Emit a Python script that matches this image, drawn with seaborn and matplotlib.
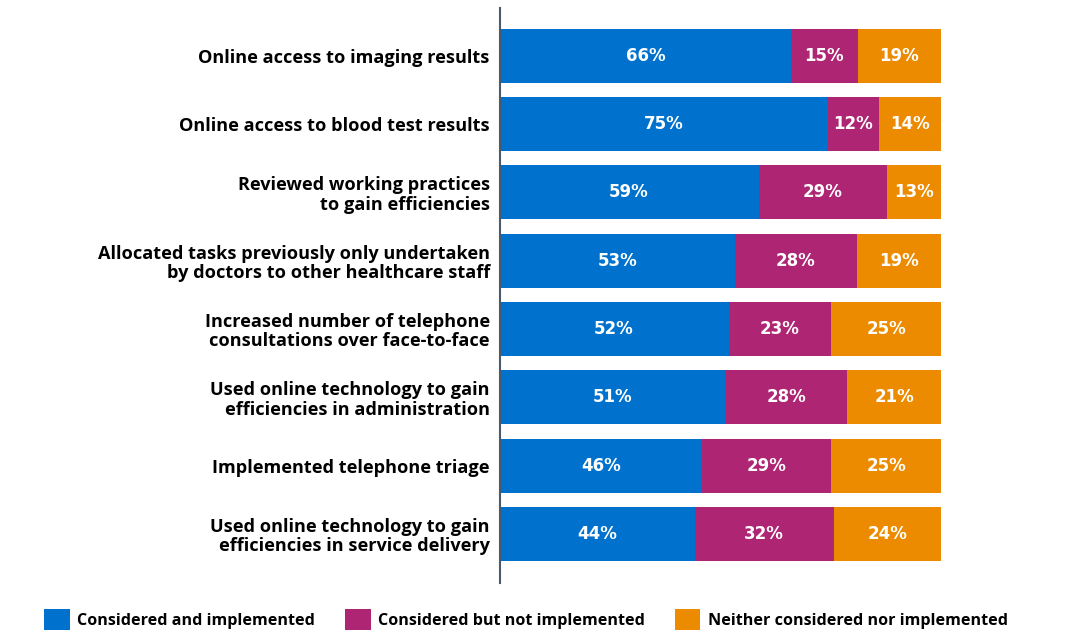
import matplotlib
matplotlib.use("Agg")
import matplotlib.pyplot as plt
import seaborn as sns
import pandas as pd
import numpy as np
from matplotlib.patches import Patch

categories = [
    "Online access to imaging results",
    "Online access to blood test results",
    "Reviewed working practices\nto gain efficiencies",
    "Allocated tasks previously only undertaken\nby doctors to other healthcare staff",
    "Increased number of telephone\nconsultations over face-to-face",
    "Used online technology to gain\nefficiencies in administration",
    "Implemented telephone triage",
    "Used online technology to gain\nefficiencies in service delivery",
]
implemented = [66.1, 74.3, 58.7, 53.3, 51.9, 51.2, 45.9, 44.2]
not_implemented = [15.0, 11.6, 29.0, 27.7, 23.2, 27.6, 29.3, 31.5]
neither = [18.9, 14.1, 12.3, 19.0, 24.9, 21.2, 24.8, 24.3]
labels_impl = ["66%", "75%", "59%", "53%", "52%", "51%", "46%", "44%"]
labels_not = ["15%", "12%", "29%", "28%", "23%", "28%", "29%", "32%"]
labels_neither = ["19%", "14%", "13%", "19%", "25%", "21%", "25%", "24%"]
series_names = ["Considered and implemented", "Considered but not implemented",
                "Neither considered nor implemented"]
colors = ["#0072CE", "#AE2573", "#ED8B00"]

df = pd.DataFrame({"cat": categories, "a": implemented, "b": not_implemented, "c": neither})
df["ab"] = df["a"] + df["b"]
df["abc"] = df["ab"] + df["c"]

sns.set_style("white")
plt.rcParams["font.family"] = ["Open Sans", "DejaVu Sans"]
plt.rcParams["text.color"] = "black"

fig = plt.figure(figsize=(10.77, 6.35), dpi=100)
ax = fig.add_axes([0.4638, 0.0819, 0.4099, 0.9055])

w = 0.79
sns.barplot(data=df, y="cat", x="abc", color=colors[2], orient="h", width=w,
            saturation=1, ax=ax, linewidth=0)
sns.barplot(data=df, y="cat", x="ab", color=colors[1], orient="h", width=w,
            saturation=1, ax=ax, linewidth=0)
sns.barplot(data=df, y="cat", x="a", color=colors[0], orient="h", width=w,
            saturation=1, ax=ax, linewidth=0)

for i in range(len(categories)):
    a, b, c = df.loc[i, "a"], df.loc[i, "b"], df.loc[i, "c"]
    for x, lab in [(a / 2, labels_impl[i]), (a + b / 2, labels_not[i]), (a + b + c / 2, labels_neither[i])]:
        ax.text(x, i, lab, ha="center", va="center", color="white",
                fontsize=12, fontweight="bold", family=["DejaVu Sans"])

ax.set_xlim(0, 100)
ax.set_ylim(7.72, -0.70)
ax.set_xlabel("")
ax.set_ylabel("")
ax.set_xticks([])
for s in ["top", "right", "bottom"]:
    ax.spines[s].set_visible(False)
ax.spines["left"].set_color("#4a5a6a")
ax.spines["left"].set_linewidth(1.5)
ax.tick_params(axis="y", length=0, pad=7)
for t in ax.get_yticklabels():
    t.set_fontweight("bold")
    t.set_fontsize(13.1)
    t.set_color("black")
    t.set_linespacing(1.1)

handles = [Patch(facecolor=c, edgecolor="none") for c in colors]
leg = fig.legend(handles, series_names, loc="center left", bbox_to_anchor=(0.0411, 0.024),
                 ncol=3, frameon=False, handlelength=1.6, handleheight=1.6,
                 handletextpad=0.45, columnspacing=1.85, borderaxespad=0, borderpad=0,
                 prop={"weight": "bold", "size": 11.6})
for t in leg.get_texts():
    t.set_color("black")

fig.savefig("out.png", dpi=100, facecolor="white")
